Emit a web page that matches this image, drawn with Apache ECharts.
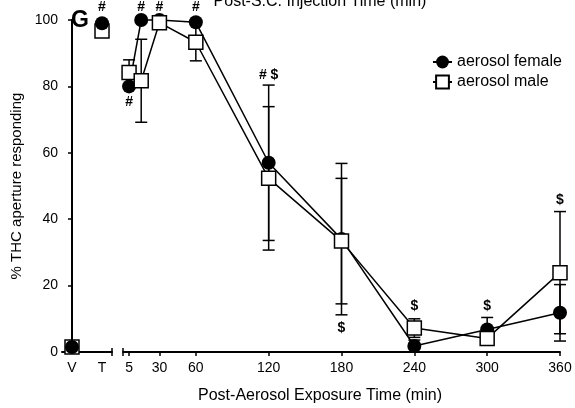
<!DOCTYPE html>
<html><head><meta charset="utf-8">
<script src="https://cdn.jsdelivr.net/npm/echarts@6/dist/echarts.min.js"></script>
<style>html,body{margin:0;padding:0;background:#fff}#c{width:575px;height:408px}</style>
</head><body><div id="c"></div>
<script>
// ---- data ----
const controlCats = ['V', 'T'];
const controlFemale = [1.5, 99];
const controlMale = [1.5, 96.7];
const controlAnnotCats = ['T'];
const controlAnnotY = [103.8];
const controlAnnotText = ['#'];

const times = [5, 15, 30, 60, 120, 180, 240, 300, 360];
const femaleMean = [80, 100, 100, 99.3, 57, 34, 1.8, 6.8, 11.8];
const femaleSem  = [0, 0, 0, 0, 23.4, 22.8, 1.8, 3.6, 8.5];
const maleMean   = [84.2, 81.7, 99.2, 93.3, 52.3, 33.4, 7.2, 4.1, 23.9];
const maleSem    = [3.8, 12.5, 0.8, 5.6, 21.6, 18.9, 2.8, 2, 18.4];

const xTickValues = [5, 30, 60, 120, 180, 240, 300, 360];
const yTickValues = [0, 20, 40, 60, 80, 100];

const annotTimes = [15, 30, 60, 5, 120, 180, 240, 300, 360];
const annotY     = [103.8, 103.8, 103.8, 75.4, 83.4, 7.2, 13.9, 13.9, 45.8];
const annotText  = ['#', '#', '#', '#', '# $', '$', '$', '$', '$'];

// ---- chart ----
const FONT = 'Liberation Sans, Arial, sans-serif';
const chart = echarts.init(document.getElementById('c'), null, {renderer: 'canvas'});

function errRender(params, api) {
  const x = api.value(0), lo = api.value(1), hi = api.value(2);
  if (hi - lo <= 0) return null;
  const a = api.coord([x, lo]), b = api.coord([x, hi]);
  const w = 6;
  const st = {stroke: '#000', lineWidth: 1.5};
  return {type: 'group', children: [
    {type: 'line', shape: {x1: a[0], y1: a[1], x2: b[0], y2: b[1]}, style: st},
    {type: 'line', shape: {x1: a[0] - w, y1: a[1], x2: a[0] + w, y2: a[1]}, style: st},
    {type: 'line', shape: {x1: b[0] - w, y1: b[1], x2: b[0] + w, y2: b[1]}, style: st}
  ]};
}

const grid0Min = -1/3, grid0Max = 4/3;
const tickStyle = {show: true, length: 4, lineStyle: {color: '#000', width: 1.5}};
const labelStyle = {color: '#000', fontSize: 14, fontFamily: FONT};
const annotLabel = {show: true, position: 'inside', color: '#000', fontWeight: 'bold', fontSize: 14,
  fontFamily: FONT, textBorderWidth: 0, opacity: 1};

const option = {
  animation: false,
  backgroundColor: '#fff',
  grid: [
    {left: 62, top: 20, width: 50, bottom: 56},
    {left: 123, top: 20, right: 15, bottom: 56}
  ],
  xAxis: [
    {type: 'value', gridIndex: 0, position: 'bottom', min: grid0Min, max: grid0Max,
     axisLine: {show: true, lineStyle: {color: '#000', width: 2}},
     axisTick: Object.assign({}, tickStyle, {customValues: [grid0Max]}),
     axisLabel: Object.assign({}, labelStyle, {customValues: [0, 1], margin: 9,
       formatter: v => controlCats[Math.round(v)]}),
     splitLine: {show: false}},
    {type: 'value', gridIndex: 1, position: 'bottom', min: 0, max: 360,
     axisLine: {show: true, lineStyle: {color: '#000', width: 2}},
     axisTick: Object.assign({}, tickStyle, {customValues: [0].concat(xTickValues)}),
     axisLabel: Object.assign({}, labelStyle, {customValues: xTickValues, margin: 9}),
     splitLine: {show: false}},
    {type: 'value', gridIndex: 0, position: 'bottom', min: grid0Min, max: grid0Max,
     axisLine: {show: false}, axisLabel: {show: false}, splitLine: {show: false},
     axisTick: Object.assign({}, tickStyle, {customValues: [grid0Max], inside: true})},
    {type: 'value', gridIndex: 1, position: 'bottom', min: 0, max: 360,
     axisLine: {show: false}, axisLabel: {show: false}, splitLine: {show: false},
     axisTick: Object.assign({}, tickStyle, {customValues: [0], inside: true})}
  ],
  yAxis: [
    {type: 'value', gridIndex: 0, min: 0, max: 100, interval: 20,
     axisLine: {show: true, lineStyle: {color: '#000', width: 2}},
     axisTick: Object.assign({}, tickStyle, {customValues: yTickValues}),
     axisLabel: Object.assign({}, labelStyle, {customValues: yTickValues, margin: 4}),
     splitLine: {show: false},
     name: '% THC aperture responding', nameLocation: 'middle', nameGap: 38,
     nameTextStyle: {color: '#000', fontSize: 15, fontFamily: FONT}},
    {type: 'value', gridIndex: 1, min: 0, max: 100, show: false, splitLine: {show: false}}
  ],
  legend: {
    data: ['aerosol female', 'aerosol male'],
    orient: 'vertical', left: 427, top: 49,
    itemWidth: 19, itemHeight: 16, itemGap: 4,
    textStyle: {color: '#000', fontSize: 16, fontFamily: FONT}
  },
  graphic: [
    {type: 'text', style: {text: 'G', x: 80, y: 21, textAlign: 'center', textVerticalAlign: 'middle',
      font: 'bold 23px ' + FONT, fill: '#000'}},
    {type: 'text', style: {text: 'Post-S.C. Injection Time (min)', x: 320, y: 2, textAlign: 'center',
      textVerticalAlign: 'middle', font: '16px ' + FONT, fill: '#000'}},
    {type: 'text', style: {text: 'Post-Aerosol Exposure Time (min)', x: 320, y: 396, textAlign: 'center',
      textVerticalAlign: 'middle', font: '16px ' + FONT, fill: '#000'}}
  ],
  series: [
    {type: 'custom', name: 'femaleErr', xAxisIndex: 1, yAxisIndex: 1, z: 1, renderItem: errRender,
     data: times.map((t, i) => [t, femaleMean[i] - femaleSem[i], femaleMean[i] + femaleSem[i]]),
     encode: {x: 0, y: [1, 2]}, clip: false, silent: true},
    {type: 'custom', name: 'maleErr', xAxisIndex: 1, yAxisIndex: 1, z: 1, renderItem: errRender,
     data: times.map((t, i) => [t, maleMean[i] - maleSem[i], maleMean[i] + maleSem[i]]),
     encode: {x: 0, y: [1, 2]}, clip: false, silent: true},
    {type: 'line', name: 'aerosol female', xAxisIndex: 1, yAxisIndex: 1, z: 2,
     data: times.map((t, i) => [t, femaleMean[i]]),
     symbol: 'circle', symbolSize: 14, showAllSymbol: true,
     itemStyle: {color: '#000', borderColor: '#000', borderWidth: 0, opacity: 1},
     lineStyle: {color: '#000', width: 1.5}, clip: false},
    {type: 'line', name: 'aerosol male', xAxisIndex: 1, yAxisIndex: 1, z: 3,
     data: times.map((t, i) => [t, maleMean[i]]),
     symbol: 'rect', symbolSize: 14, showAllSymbol: true,
     itemStyle: {color: '#fff', borderColor: '#000', borderWidth: 1.5, opacity: 1},
     lineStyle: {color: '#000', width: 1.5}, clip: false},
    {type: 'scatter', name: 'ctrl male', xAxisIndex: 0, yAxisIndex: 0, z: 3,
     data: controlCats.map((c, i) => [i, controlMale[i]]),
     symbol: 'rect', symbolSize: 14,
     itemStyle: {color: '#fff', borderColor: '#000', borderWidth: 1.5, opacity: 1}, clip: false},
    {type: 'scatter', name: 'ctrl female', xAxisIndex: 0, yAxisIndex: 0, z: 4,
     data: controlCats.map((c, i) => [i, controlFemale[i]]),
     symbol: 'circle', symbolSize: 14,
     itemStyle: {color: '#000', opacity: 1}, clip: false},
    {type: 'scatter', name: 'annot', xAxisIndex: 1, yAxisIndex: 1, z: 5,
     data: annotTimes.map((t, i) => [t, annotY[i]]),
     symbolSize: 0.1, clip: false, silent: true, itemStyle: {opacity: 1},
     label: Object.assign({}, annotLabel, {formatter: p => annotText[p.dataIndex]})},
    {type: 'scatter', name: 'ctrlAnnot', xAxisIndex: 0, yAxisIndex: 0, z: 5,
     data: controlAnnotCats.map((c, i) => [controlCats.indexOf(c), controlAnnotY[i]]),
     symbolSize: 0.1, clip: false, silent: true, itemStyle: {opacity: 1},
     label: Object.assign({}, annotLabel, {formatter: p => controlAnnotText[p.dataIndex]})}
  ]
};
chart.setOption(option);
</script></body></html>
